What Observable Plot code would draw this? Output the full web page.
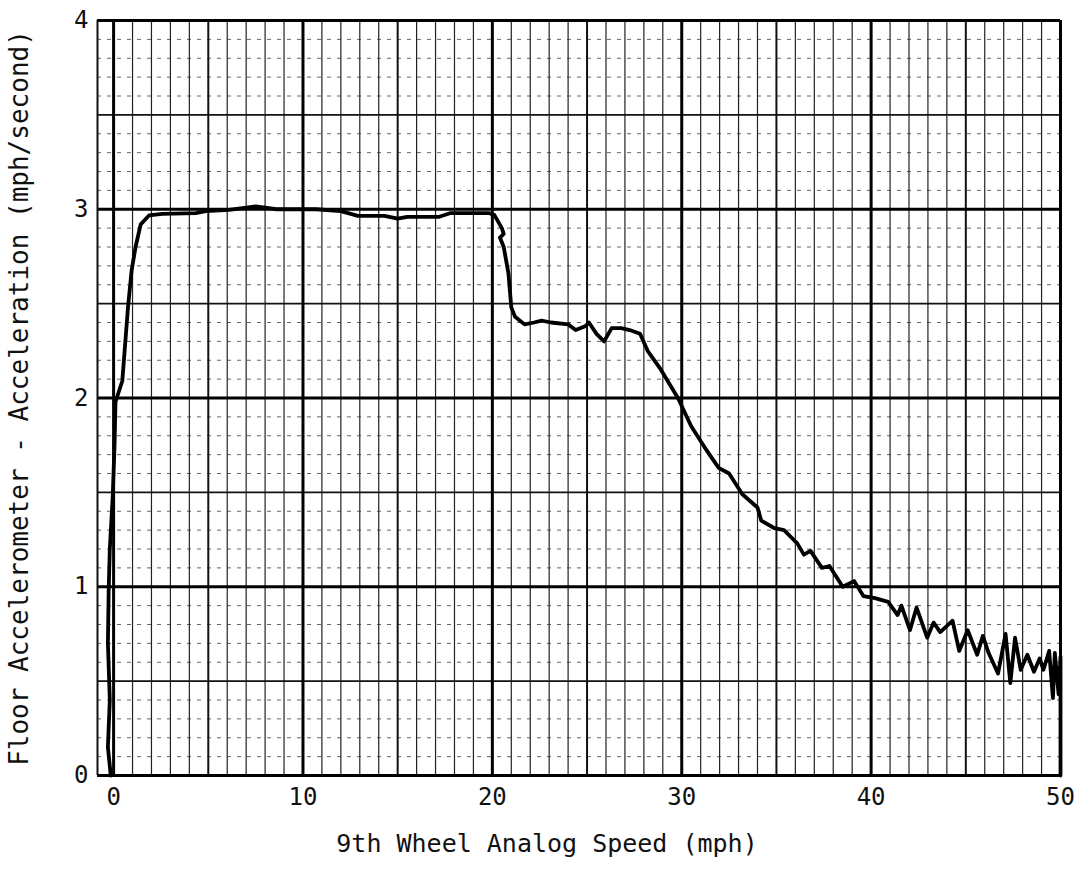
<!DOCTYPE html>
<html>
<head>
<meta charset="utf-8">
<script src="https://cdn.jsdelivr.net/npm/d3@7"></script>
<script src="https://cdn.jsdelivr.net/npm/@observablehq/plot@0.6"></script>
<style>
  html, body { margin: 0; padding: 0; background: #fff; }
  #chart { width: 1074px; height: 869px; }
</style>
</head>
<body>
<div id="chart"></div>
<script>
// Trace: 9th wheel analog speed (mph) vs floor accelerometer acceleration (mph/s)
const speed = [-0.15, -0.3, -0.2, -0.3, -0.26, -0.2, -0.05, 0.05, 0.1, 0.46,
  0.76, 0.95, 1.16, 1.43, 1.87, 2.57, 4.34, 4.87, 6.1, 7.5,
  8.6, 10.7, 12.0, 12.9, 14.3, 15.0, 15.5, 17.2, 17.8, 19.8,
  20.1, 20.5, 20.6, 20.4, 20.6, 20.85, 21.0, 21.2, 21.7, 22.2,
  22.6, 23.1, 24.0, 24.4, 24.9, 25.1, 25.5, 25.9, 26.3, 26.8,
  27.25, 27.8, 28.2, 28.9, 29.8, 30.5, 31.2, 31.95, 32.5, 33.2,
  34.0, 34.2, 34.9, 35.4, 36.1, 36.45, 36.8, 37.4, 37.8, 38.5,
  39.1, 39.6, 40.2, 40.9, 41.4, 41.6, 42.05, 42.4, 42.96, 43.3,
  43.65, 44.3, 44.65, 45.1, 45.6, 45.9, 46.2, 46.7, 47.1, 47.35,
  47.6, 47.9, 48.25, 48.6, 48.9, 49.1, 49.4, 49.6, 49.7, 49.9,
  50.0, 50.0];
const accel = [0, 0.15, 0.4, 0.7, 0.98, 1.2, 1.47, 1.75, 1.98, 2.09,
  2.48, 2.675, 2.80, 2.92, 2.967, 2.976, 2.98, 2.99, 2.997, 3.015,
  3.0, 3.0, 2.99, 2.965, 2.965, 2.95, 2.96, 2.96, 2.98, 2.98,
  2.97, 2.90, 2.87, 2.85, 2.80, 2.66, 2.48, 2.43, 2.39, 2.40,
  2.41, 2.40, 2.39, 2.36, 2.38, 2.40, 2.34, 2.30, 2.37, 2.37,
  2.36, 2.34, 2.25, 2.15, 2.00, 1.85, 1.74, 1.63, 1.60, 1.49,
  1.42, 1.35, 1.31, 1.30, 1.23, 1.17, 1.19, 1.10, 1.11, 1.00,
  1.03, 0.95, 0.94, 0.92, 0.85, 0.90, 0.77, 0.89, 0.73, 0.81,
  0.76, 0.82, 0.66, 0.77, 0.64, 0.74, 0.65, 0.54, 0.75, 0.49,
  0.73, 0.56, 0.64, 0.55, 0.62, 0.56, 0.66, 0.41, 0.65, 0.43,
  0.63, 0];

const xTicks = [0, 10, 20, 30, 40, 50];
const yTicks = [0, 1, 2, 3, 4];
const xLabel = "9th Wheel Analog Speed (mph)";
const yLabel = "Floor Accelerometer - Acceleration (mph/second)";

const xMin = -0.85, xMax = 50;

const trace = speed.map((s, i) => ({speed: s, accel: accel[i]}));

// graph-paper grid
const vAll = d3.range(0, 51);
const vMinor = vAll.filter(v => v % 5 !== 0);
const vFive = vAll.filter(v => v % 5 === 0 && v % 10 !== 0);
const vTen = vAll.filter(v => v % 10 === 0);
const hMinor = d3.range(0, 41).filter(i => i % 5 !== 0).map(i => i / 10);
const hHalf = d3.range(0, 41).filter(i => i % 5 === 0 && i % 10 !== 0).map(i => i / 10);
const hInt = yTicks;

const chart = Plot.plot({
  width: 1074,
  height: 869,
  marginTop: 20,
  marginBottom: 94,
  marginLeft: 97,
  marginRight: 14,
  style: {fontFamily: "'DejaVu Sans Mono', monospace", fontSize: "24px", color: "#111", background: "#fff"},
  x: {domain: [xMin, xMax], ticks: xTicks, tickSize: 0, tickPadding: 12, label: null, tickFormat: d => String(d)},
  y: {domain: [0, 4], ticks: yTicks, tickSize: 0, tickPadding: 9, label: null, tickFormat: d => String(d)},
  marks: [
    Plot.ruleY(hMinor, {stroke: "#666", strokeWidth: 1, strokeDasharray: "4,6"}),
    Plot.ruleX(vMinor, {stroke: "#222", strokeWidth: 1.2}),
    Plot.ruleX(vFive, {stroke: "#111", strokeWidth: 2}),
    Plot.ruleY(hHalf, {stroke: "#111", strokeWidth: 1.8}),
    Plot.ruleX(vTen, {stroke: "#000", strokeWidth: 3}),
    Plot.ruleY(hInt, {stroke: "#000", strokeWidth: 2.8}),
    Plot.ruleX([xMin], {stroke: "#111", strokeWidth: 2}),
    Plot.line(trace, {x: "speed", y: "accel", stroke: "#000", strokeWidth: 3.8, strokeLinejoin: "round", strokeLinecap: "round"}),
    Plot.text([yLabel], {text: d => d, frameAnchor: "left", textAnchor: "middle", rotate: -90, lineAnchor: "top", dx: -88, fontSize: 26, fill: "#111"}),
    Plot.text([xLabel], {text: d => d, frameAnchor: "bottom", textAnchor: "middle", lineAnchor: "bottom", dy: 76, dx: -32, fontSize: 25, fill: "#111"})
  ]
});

document.getElementById("chart").appendChild(chart);
</script>
</body>
</html>
